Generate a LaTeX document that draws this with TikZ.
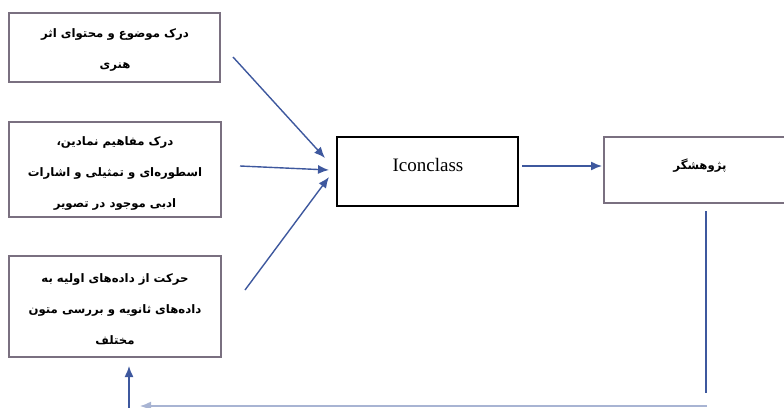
\documentclass[tikz,border=0pt]{standalone}
\usepackage{fontspec}
\setmainfont{Liberation Serif}
\newfontfamily\arabicfont[Script=Arabic]{DejaVu Sans}
\TeXXeTstate=1
\usetikzlibrary{arrows.meta}
\definecolor{arr}{RGB}{62,88,158}
\definecolor{bord}{RGB}{122,112,128}
\begin{document}
\begin{tikzpicture}[x=1pt,y=-1pt,
  fabox/.style={draw=bord,line width=2pt,inner sep=0pt},
  icbox/.style={draw=black,line width=2.4pt,inner sep=0pt},
  ar/.style={draw=arr,line width=1.4pt,-{Latex[length=11pt,width=9pt]}},
  ln/.style={draw=arr,line width=1.6pt},
  fa/.style={font=\arabicfont\bfseries\fontsize{11.7}{31}\selectfont,align=center,inner sep=0pt}]
\clip (0,0) rectangle (784,407);
% boxes
\node[fabox,minimum width=211pt,minimum height=69pt] (b1) at (114.5,47.5) {};
\node[fabox,minimum width=212pt,minimum height=95pt] (b2) at (115,169.5) {};
\node[fabox,minimum width=212pt,minimum height=101pt] (b3) at (115,306.5) {};
\node[icbox,minimum width=181pt,minimum height=69pt] (ic) at (427.5,171.5) {};
\node[fabox,minimum width=196pt,minimum height=66pt] (rs) at (702,170) {};
% texts
\node[fa] (t1) at (115,50) {\beginR درک موضوع و محتوای اثر\endR\\\beginR هنری\endR};
\node[fa] (t2) at (115,173) {\beginR درک مفاهیم نمادین،\endR\\\beginR اسطوره‌ای و تمثیلی و اشارات\endR\\\beginR ادبی موجود در تصویر\endR};
\node[fa] (t3) at (115,309) {\beginR حرکت از داده‌های اولیه به\endR\\\beginR داده‌های ثانویه و بررسی متون\endR\\\beginR مختلف\endR};
\node[font=\fontsize{19}{21}\selectfont,inner sep=0pt] (ti) at (428,165) {Iconclass};
\node[fa] (tr) at (700,166) {\beginR پژوهشگر\endR};
% connector ends
\coordinate (s1) at (233,57);   \coordinate (e1) at (325,158);
\coordinate (s2) at (240,166);  \coordinate (e2) at (329,170);
\coordinate (s3) at (245,290);  \coordinate (e3) at (329,177);
\coordinate (s4) at (522,166);  \coordinate (e4) at (602,166);
\coordinate (v1) at (706,211);  \coordinate (v2) at (706,393);
\coordinate (h1) at (707,406);  \coordinate (h2) at (140,406);
\coordinate (u1) at (129,412);  \coordinate (u2) at (129,366);
% connectors
\draw[ar] (s1) -- (e1);
\draw[ar] (s2) -- (e2);
\draw[ar] (s3) -- (e3);
\draw[ar] (s4) -- (e4);
\draw[ln] (v1) -- (v2);
\draw[ar,draw=arr!45] (h1) -- (h2);
\draw[ar] (u1) -- (u2);
\end{tikzpicture}
\end{document}
